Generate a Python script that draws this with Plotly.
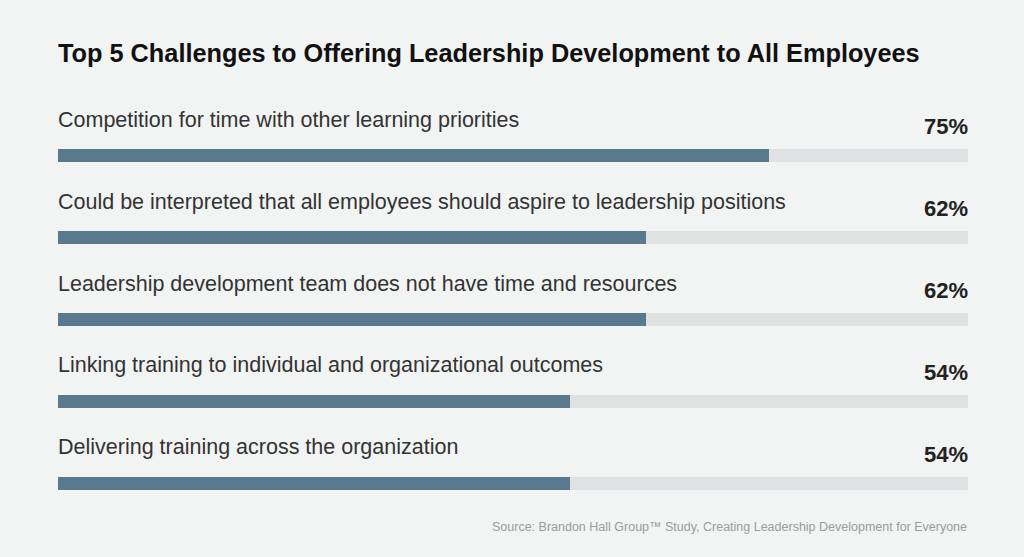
import plotly.graph_objects as go

challenges = [
    "Competition for time with other learning priorities",
    "Could be interpreted that all employees should aspire to leadership positions",
    "Leadership development team does not have time and resources",
    "Linking training to individual and organizational outcomes",
    "Delivering training across the organization",
]
percents = [75, 62, 62, 54, 54]

title = "Top 5 Challenges to Offering Leadership Development to All Employees"
source = "Source: Brandon Hall Group\u2122 Study, Creating Leadership Development for Everyone"

XMAX = 96  # full length of the grey track
rows = list(range(len(challenges)))

BG = "#f2f3f3"
FILL = "#5a798d"
TRACK = "#dfe1e3"
FONT = "Liberation Sans, Arial, sans-serif"

fig = go.Figure()
fig.add_trace(go.Bar(
    x=[XMAX] * len(rows), y=rows, orientation="h", width=0.16,
    marker=dict(color=TRACK, line=dict(width=0)), hoverinfo="skip",
))
fig.add_trace(go.Bar(
    x=percents, y=rows, orientation="h", width=0.16,
    marker=dict(color=FILL, line=dict(width=0)),
    hovertemplate="%{x}%<extra></extra>",
))

annotations = []
for i, (lab, p) in enumerate(zip(challenges, percents)):
    annotations.append(dict(
        x=0, y=i, xref="x", yref="y", text=lab, showarrow=False,
        xanchor="left", yanchor="middle", yshift=36, xshift=-2,
        font=dict(family=FONT, size=21.5, color="#333333"),
    ))
    annotations.append(dict(
        x=XMAX, y=i, xref="x", yref="y", text=f"<b>{p}%</b>", showarrow=False,
        xanchor="right", yanchor="middle", yshift=29, xshift=2,
        font=dict(family=FONT, size=22, color="#222222"),
    ))
annotations.append(dict(
    x=0, y=1, xref="paper", yref="paper", text=f"<b>{title}</b>", showarrow=False,
    xanchor="left", yanchor="middle", yshift=62.5, xshift=-2,
    font=dict(family=FONT, size=25.3, color="#111111"),
))
annotations.append(dict(
    x=1, y=0, xref="paper", yref="paper", text=source, showarrow=False,
    xanchor="right", yanchor="middle", yshift=-3, xshift=1,
    font=dict(family=FONT, size=12.5, color="#9a9c9e"),
))

fig.update_layout(
    width=1024, height=557,
    margin=dict(l=58, r=56, t=114.5, b=32.5),
    paper_bgcolor=BG, plot_bgcolor=BG,
    barmode="overlay", bargap=0, showlegend=False,
    xaxis=dict(range=[0, XMAX], visible=False, fixedrange=True),
    yaxis=dict(range=[4.5, -0.5], visible=False, fixedrange=True),
    annotations=annotations,
)

fig.write_html("out.html", config={"displayModeBar": False},
               post_script="document.body.style.margin='0';")
